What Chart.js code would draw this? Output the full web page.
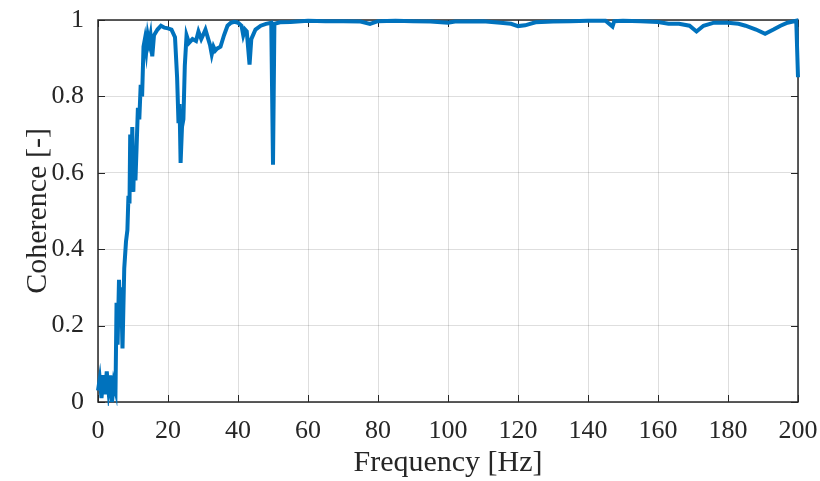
<!DOCTYPE html>
<html>
<head>
<meta charset="utf-8">
<script src="https://cdn.jsdelivr.net/npm/chart.js@4"></script>
<style>
  html, body { margin: 0; padding: 0; background: #fff; }
  #wrap { width: 820px; height: 481px; }
</style>
</head>
<body>
<div id="wrap"><canvas id="myCanvas" width="820" height="481"></canvas></div>
<script>
// values
var freq = [0, 0.5, 1, 1.5, 2, 2.5, 3, 3.5, 4, 4.5, 5, 5.3, 5.6, 6, 6.3, 6.6, 7, 7.5, 8, 8.4,
  8.7, 9, 9.2, 9.5, 9.8, 10.1, 10.4, 10.7, 11, 11.4, 11.8, 12.2, 12.6, 13, 13.4, 13.8, 14.2, 14.6, 15, 15.5,
  16, 17, 18, 19, 20, 21, 22, 22.6, 23, 23.3, 23.6, 24, 24.4, 24.8, 25.3, 26, 27, 28, 28.7, 29.5, 30,
  30.7, 31.5, 32, 32.5, 33, 33.5, 34, 35, 36, 37, 38, 39, 40, 41, 41.5, 42, 42.5, 43.3, 43.8, 45,
  46.5, 48, 49.5, 50, 50.4, 52, 55, 60, 65, 70, 75, 77.7, 80, 85, 90, 95, 100, 102, 105, 110,
  115, 118, 120, 122, 125, 130, 135, 140, 145, 147, 147.5, 150, 155, 160, 163, 166, 169, 171, 173, 176,
  180, 183, 185, 188, 190.6, 193, 195, 197, 199.5, 200];
var coh = [0.03, 0.06, 0.01, 0.07, 0.02, 0.08, 0.03, 0.07, 0.0, 0.05, 0.03, 0.26, 0.15, 0.32, 0.2, 0.3, 0.14, 0.35, 0.42, 0.45,
  0.54, 0.52, 0.70, 0.58, 0.72, 0.55, 0.67, 0.58, 0.66, 0.77, 0.74, 0.83, 0.80, 0.93, 0.95, 0.92, 0.96, 0.94, 0.96, 0.905,
  0.96, 0.975, 0.985, 0.98, 0.978, 0.975, 0.955, 0.85, 0.73, 0.78, 0.626, 0.72, 0.74, 0.88, 0.96, 0.94, 0.95, 0.945, 0.97, 0.95, 0.96,
  0.975, 0.95, 0.935, 0.91, 0.93, 0.92, 0.925, 0.93, 0.96, 0.985, 0.993, 0.995, 0.993, 0.985, 0.96, 0.975, 0.97, 0.883, 0.95, 0.975,
  0.985, 0.99, 0.993, 0.621, 0.99, 0.994, 0.995, 0.998, 0.997, 0.997, 0.996, 0.99, 0.997, 0.998, 0.997, 0.996, 0.993, 0.996, 0.996, 0.997,
  0.993, 0.99, 0.984, 0.986, 0.994, 0.996, 0.997, 0.998, 0.998, 0.983, 0.997, 0.998, 0.997, 0.995, 0.99, 0.99, 0.985, 0.97, 0.985, 0.993,
  0.993, 0.99, 0.985, 0.975, 0.964, 0.975, 0.985, 0.993, 0.998, 0.85];
var xTicks = [0, 20, 40, 60, 80, 100, 120, 140, 160, 180, 200];
var yTicks = [0, 0.2, 0.4, 0.6, 0.8, 1];

var serif = "'Liberation Serif', 'Times New Roman', serif";

var pts = [];
for (var i = 0; i < freq.length; i++) pts.push({x: freq[i], y: coh[i]});

// box around the axes plus inward ticks on all four sides
var boxPlugin = {
  id: 'box',
  beforeDatasetsDraw: function(chart) {
    var c = chart.ctx, a = chart.chartArea;
    var xs = chart.scales.x, ys = chart.scales.y;
    var L = 7;
    c.save();
    c.strokeStyle = '#262626';
    c.lineWidth = 1;
    c.beginPath();
    xTicks.forEach(function(t) {
      var px = Math.round(xs.getPixelForValue(t)) + 0.5;
      c.moveTo(px, a.bottom); c.lineTo(px, a.bottom - L);
      c.moveTo(px, a.top); c.lineTo(px, a.top + L);
    });
    yTicks.forEach(function(t) {
      var py = Math.round(ys.getPixelForValue(t)) + 0.5;
      c.moveTo(a.left, py); c.lineTo(a.left + L, py);
      c.moveTo(a.right, py); c.lineTo(a.right - L, py);
    });
    c.stroke();
    c.lineWidth = 1.5;
    c.strokeRect(a.left, a.top, a.right - a.left, a.bottom - a.top);
    c.restore();
  }
};

var ctx = document.getElementById("myCanvas").getContext('2d');
var chart = new Chart(ctx, {
  type: 'line',
  data: {
    datasets: [{
      data: pts,
      borderColor: '#0072BD',
      borderWidth: 4,
      pointRadius: 0,
      fill: false,
      tension: 0,
      clip: 4
    }]
  },
  options: {
    responsive: false,
    animation: false,
    devicePixelRatio: 1,
    layout: { padding: { left: 0, right: 22, top: 20, bottom: 0 } },
    plugins: { legend: { display: false }, tooltip: { enabled: false } },
    scales: {
      x: {
        type: 'linear',
        min: 0, max: 200,
        afterFit: function(s) { s.height = 79; s.paddingLeft = 0; s.paddingRight = 0; },
        afterBuildTicks: function(s) { s.ticks = xTicks.map(function(v) { return {value: v}; }); },
        ticks: { color: '#262626', font: { family: serif, size: 26 }, padding: 14, maxRotation: 0,
          callback: function(v) { return String(v); } },
        grid: { color: 'rgba(0,0,0,0.13)', drawTicks: false },
        border: { display: false },
        title: { display: true, text: 'Frequency [Hz]', color: '#262626',
          font: { family: serif, size: 30 }, padding: { top: 3, bottom: 0 } }
      },
      y: {
        min: 0, max: 1,
        afterFit: function(s) { s.width = 98; s.paddingTop = 0; s.paddingBottom = 0; },
        afterBuildTicks: function(s) { s.ticks = yTicks.map(function(v) { return {value: v}; }); },
        ticks: { color: '#262626', font: { family: serif, size: 26 }, padding: 14,
          callback: function(v) { return String(v); } },
        grid: { color: 'rgba(0,0,0,0.13)', drawTicks: false },
        border: { display: false },
        title: { display: true, text: 'Coherence [-]', color: '#262626',
          font: { family: serif, size: 30 }, padding: { top: 20, bottom: 0 } }
      }
    }
  },
  plugins: [boxPlugin]
});
</script>
</body>
</html>
